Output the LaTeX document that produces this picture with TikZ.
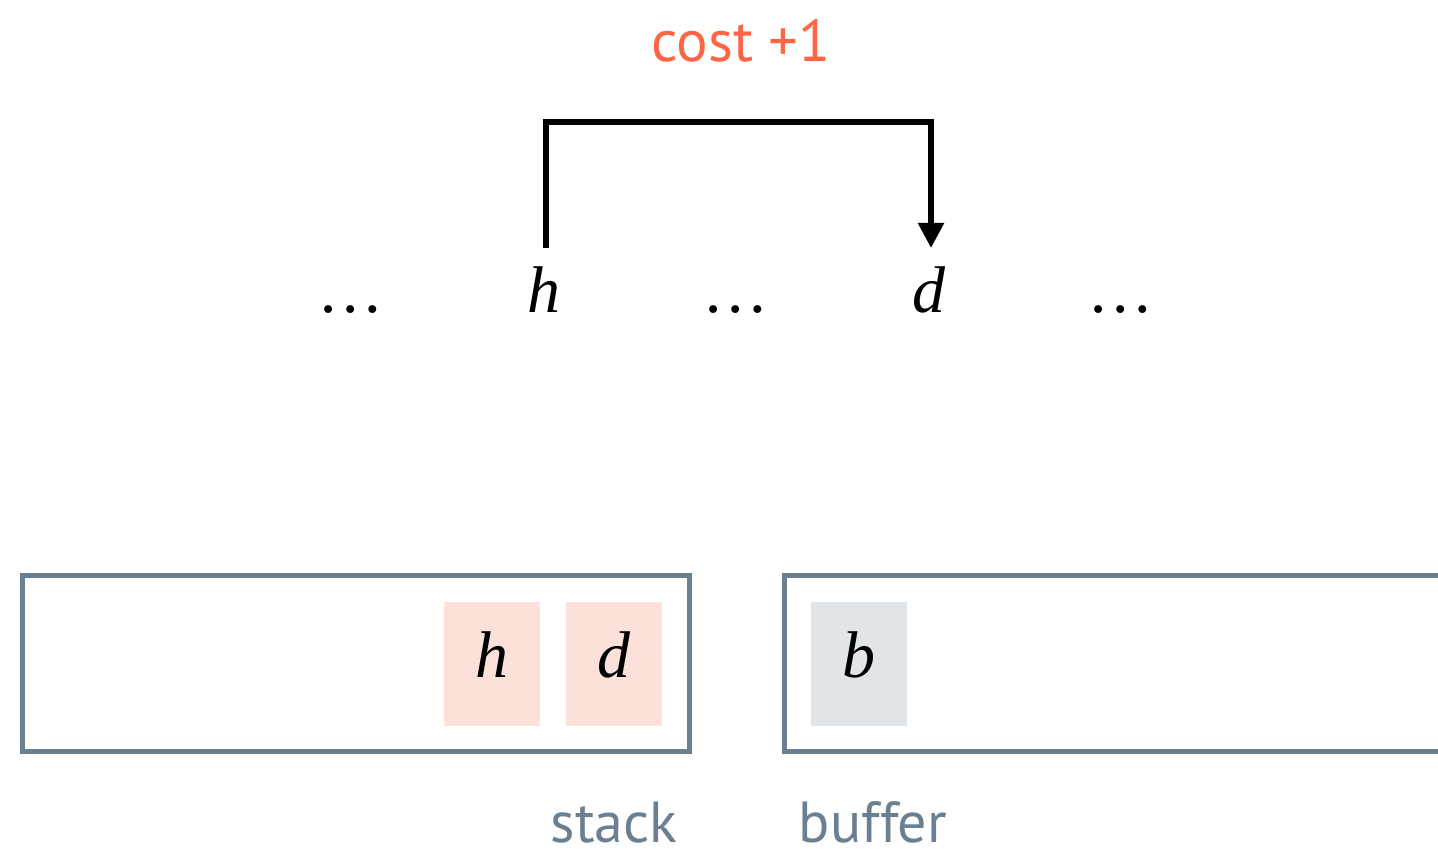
\documentclass[tikz,border=0pt]{standalone}
\usepackage{fontspec}
\newfontfamily\labelfont{PT Sans}
\newfontfamily\wordfont{Liberation Serif}
\usetikzlibrary{arrows.meta}
\definecolor{slate}{HTML}{6A7F92}
\definecolor{accent}{HTML}{FF6444}
\definecolor{pinkcell}{HTML}{FCE0DA}
\definecolor{graycell}{HTML}{E1E4E9}
\tikzset{
  word/.style={inner sep=0pt, anchor=base, font=\wordfont\itshape\fontsize{33}{33}\selectfont},
  cell/.style={inner sep=0pt, minimum width=48pt, minimum height=62pt,
    text height=23pt, text depth=10pt, font=\wordfont\itshape\fontsize{33}{33}\selectfont},
  stackcell/.style={cell, fill=pinkcell},
  buffercell/.style={cell, fill=graycell},
  container/.style={draw=slate, line width=2.5pt},
  caption/.style={inner sep=0pt, anchor=base, text=slate,
    font=\labelfont\fontsize{29}{29}\selectfont},
  arc/.style={line width=2.75pt, -{Triangle[width=12.5pt,length=12.5pt]}}
}
\begin{document}
\begin{tikzpicture}[x=0.5pt,y=-0.5pt]
  \useasboundingbox (0,0) rectangle (1438,849);
  \clip (0,0) rectangle (1438,849);

  % sentence with head and dependent
  \node[word] (dots1) at (352,313) {\char"2026};
  \node[word] (h) at (544,313) {h};
  \node[word] (dots2) at (737,313) {\char"2026};
  \node[word] (d) at (929,313) {d};
  \node[word] (dots3) at (1122,313) {\char"2026};

  % arc from head to dependent
  \draw[arc] ([xshift=1pt,yshift=32.5pt]h.base) -- ++(0pt,63pt)
    -| ([xshift=1pt,yshift=32.5pt]d.base);
  \node[inner sep=0pt, anchor=base, text=accent,
    font=\labelfont\fontsize{29.5}{29.5}\selectfont] (cost) at (741,62) {cost +1};

  % stack and buffer
  \draw[container] (22.5,575.5) rectangle (689.5,751.5);
  \draw[container] (1460,575.5) -- (784.5,575.5) -- (784.5,751.5) -- (1460,751.5);

  \node[stackcell] (sh) at (492,664) {h};
  \node[stackcell] (sd) at (614,664) {d};
  \node[buffercell] (bb) at (859,664) {b};

  \node[caption] (stack) at (614,842) {stack};
  \node[caption] (buffer) at (873,842) {buffer};
\end{tikzpicture}
\end{document}
